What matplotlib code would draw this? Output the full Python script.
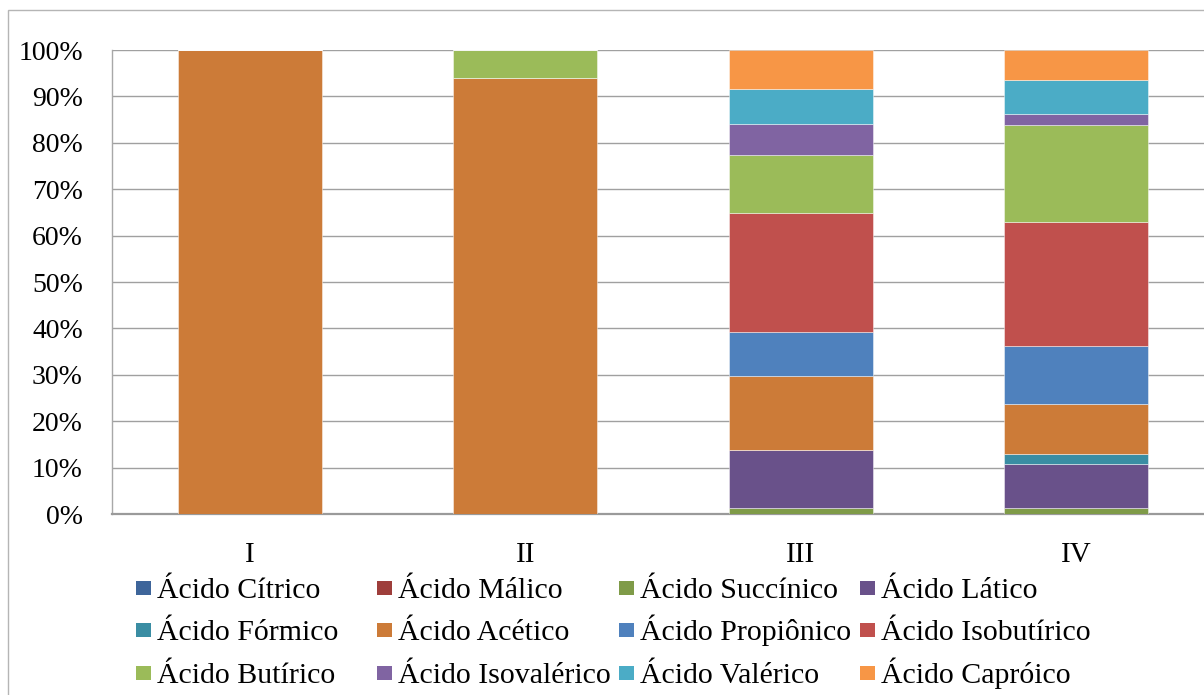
import matplotlib
matplotlib.use("Agg")
import matplotlib.pyplot as plt
from matplotlib.patches import Rectangle
import numpy as np

plt.rcParams['font.family'] = ['Liberation Serif', 'DejaVu Serif']

categories = ["I", "II", "III", "IV"]

# Share of each acid per sample (%), bottom-to-top stacking order
series_names = [
    "Ácido Cítrico", "Ácido Málico", "Ácido Succínico", "Ácido Lático",
    "Ácido Fórmico", "Ácido Acético", "Ácido Propiônico", "Ácido Isobutírico",
    "Ácido Butírico", "Ácido Isovalérico", "Ácido Valérico", "Ácido Capróico",
]
citrico     = [0, 0, 0, 0]
malico      = [0, 0, 0, 0]
succinico   = [0, 0, 1.4, 1.4]
latico      = [0, 0, 12.3, 9.4]
formico     = [0, 0, 0, 2.1]
acetico     = [100, 94.0, 16.0, 10.7]
propionico  = [0, 0, 9.6, 12.5]
isobutirico = [0, 0, 25.5, 26.9]
butirico    = [0, 6.0, 12.6, 20.8]
isovalerico = [0, 0, 6.6, 2.3]
valerico    = [0, 0, 7.7, 7.5]
caproico    = [0, 0, 8.3, 6.4]

series_values = [citrico, malico, succinico, latico, formico, acetico,
                 propionico, isobutirico, butirico, isovalerico, valerico, caproico]

colors = ["#3E659A", "#9E3E3B", "#7F9B48", "#69518A", "#3A8DA3", "#CC7B38",
          "#4F81BD", "#C0504D", "#9BBB59", "#8064A2", "#4BACC6", "#F79646"]

W, H = 1204, 695
fig = plt.figure(figsize=(W / 100, H / 100), dpi=100)

def fx(px):
    return px / W

def fy(py):
    return 1 - py / H

# outer chart frame
fig.patches.append(Rectangle((fx(8), fy(1000)), fx(1400), fy(10) - fy(1000),
                             transform=fig.transFigure, fill=False,
                             edgecolor="#b5b5b5", linewidth=1.0))

ax = fig.add_axes([fx(112), fy(514), (1214 - 112) / W, (514 - 50) / H])
x = np.arange(len(categories))
bottom = np.zeros(len(categories))
for name, vals, col in zip(series_names, series_values, colors):
    vals = np.array(vals, dtype=float)
    ax.bar(x, vals, width=0.523, bottom=bottom, color=col, label=name,
           edgecolor=(1, 1, 1, 0.45), linewidth=0.7, zorder=3)
    bottom += vals

ax.set_xlim(-0.5, len(categories) - 0.5)
ax.set_ylim(0, 100)
ax.set_yticks(np.arange(0, 101, 10))
ax.set_yticklabels([f"{v}%" for v in range(0, 101, 10)], fontsize=20)
ax.set_xticks(x)
ax.set_xticklabels(categories, fontsize=21)
ax.tick_params(axis="y", length=0, pad=21)
ax.tick_params(axis="x", length=0, pad=20)
ax.yaxis.grid(True, color="#a0a0a0", linewidth=1.0, zorder=0)
ax.set_axisbelow(True)
for s in ["top", "right"]:
    ax.spines[s].set_visible(False)
ax.spines["left"].set_color("#a8a8a8")
ax.spines["left"].set_linewidth(1.0)
ax.spines["bottom"].set_color("#9a9a9a")
ax.spines["bottom"].set_linewidth(1.6)

# legend laid out in rows of four, left to right
col_x = [136, 377, 619, 860]
row_base = [598, 640, 683]
for i, (name, col) in enumerate(zip(series_names, colors)):
    r, c = divmod(i, 4)
    mx, by = col_x[c], row_base[r]
    fig.patches.append(Rectangle((fx(mx), fy(by - 3)), 15 / W, 14 / H,
                                 transform=fig.transFigure, facecolor=col,
                                 edgecolor="none"))
    fig.text(fx(mx + 21), fy(by), name, fontsize=21.5, va="baseline",
             ha="left")

fig.savefig("out.png", dpi=100)
